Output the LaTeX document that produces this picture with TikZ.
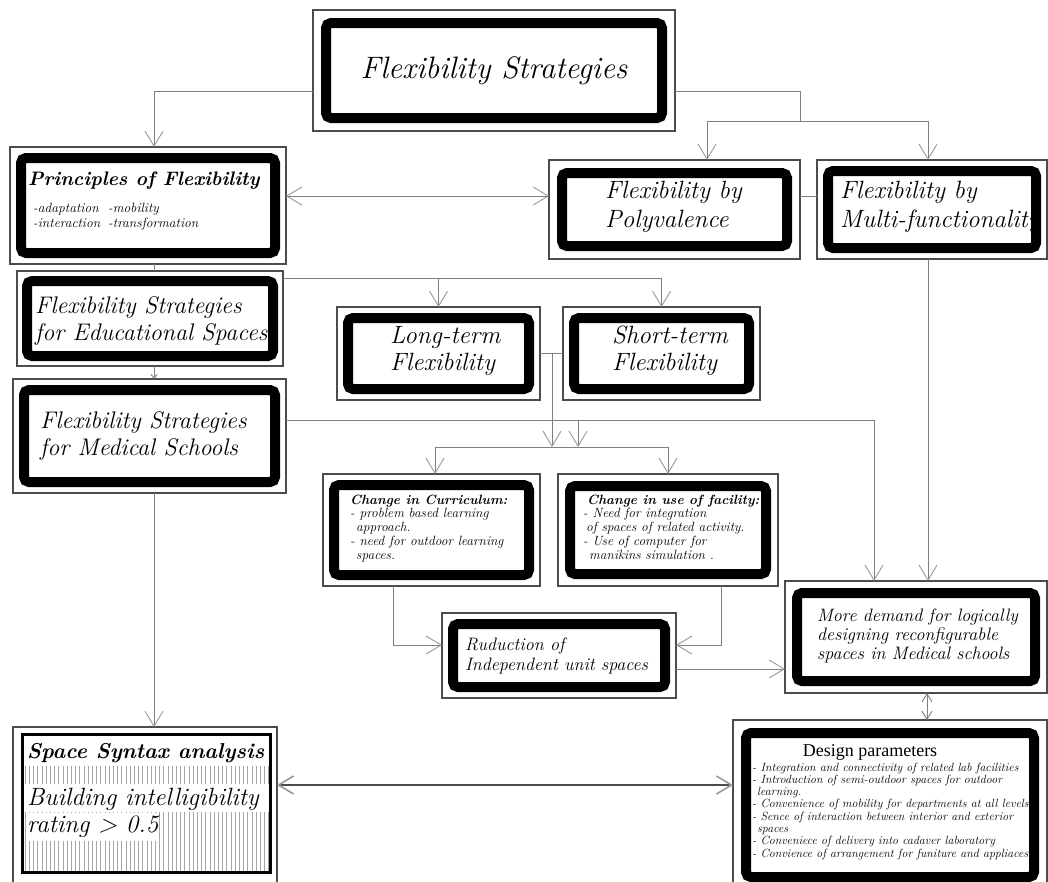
\documentclass[tikz,border=0pt]{standalone}
\usepackage{fontspec}
\newfontfamily\timesfont{Liberation Serif}
\usetikzlibrary{arrows.meta}
% left-aligned block whose reference point is the first baseline
\newcommand\mylines[1]{\begin{tabular}[t]{@{}l@{}}#1\end{tabular}}
\newcommand\fsz[2]{\fontsize{#1}{#2}\selectfont}
% thin outer frame: name, x1, y1, x2, y2
\newcommand\obox[5]{\node[outerbox, minimum width={(#4-#2)*1pt}, minimum height={(#5-#3)*1pt}] (#1) at ({(#2+#4)/2},{(#3+#5)/2}) {};}
% heavy rounded frame set inside an outer frame
\newcommand\tframe[2]{\draw[thickframe] ([shift={(#2+5,#2+5)}]#1.north west) rectangle ([shift={(-#2-5,-#2-5)}]#1.south east);}
\begin{document}
\begin{tikzpicture}[x=1pt,y=-1pt,
  outerbox/.style={draw=black!70, line width=1.1pt, rectangle, inner sep=0pt, outer sep=0pt, fill=white},
  thickframe/.style={draw=black, line width=10pt, rounded corners=5pt},
  lbl/.style={inner sep=0pt, anchor=base west, font=\itshape},
  wire/.style={draw=black!50, line width=0.9pt},
  conn/.style={wire, -{Straight Barb[length=15pt,width=18pt,color=black!40]}},
  conntwo/.style={wire, {Straight Barb[length=15pt,width=18pt,color=black!40]}-{Straight Barb[length=15pt,width=18pt,color=black!40]}},
  connsmall/.style={wire, -{Straight Barb[length=4pt,width=6pt]}},
  conntwosmall/.style={wire, {Straight Barb[length=8pt,width=10pt]}-{Straight Barb[length=8pt,width=10pt]}},
  hatch/.style={draw=black!35, line width=0.5pt}]
\useasboundingbox (0,0) rectangle (1048,881);
\fill[white] (0,0) rectangle (1048,881);
\clip (0,0) rectangle (1048,881);

% ---------- boxes ----------
\obox{title}{313}{10}{675}{131}   \tframe{title}{8}
\obox{princ}{10}{147}{286}{264}   \tframe{princ}{6}
\obox{poly}{549}{160}{800}{259}   \tframe{poly}{8}
\obox{multi}{817}{160}{1047}{259} \tframe{multi}{6}
\obox{edu}{17}{271}{283}{366}     \tframe{edu}{5}
\obox{med}{13}{379}{286}{493}     \tframe{med}{6}
\obox{long}{337}{307}{540}{400}   \tframe{long}{6}
\obox{short}{563}{307}{760}{400}  \tframe{short}{6}
\obox{curr}{323}{474}{540}{586}   \tframe{curr}{6}
\obox{fac}{558}{474}{778}{586}    \tframe{fac}{7}
\obox{red}{442}{613}{676}{698}    \tframe{red}{6}
\obox{more}{785}{581}{1047}{693}  \tframe{more}{7}
\obox{design}{733}{720}{1047}{890} \tframe{design}{8}
\obox{space}{13}{727}{277}{890}

% hatched panel of the space syntax box
\foreach \x in {25,29.2,...,270} \draw[hatch] (\x,736) -- (\x,872);
\fill[white] (23,735) rectangle (270,766);
\fill[white] (23,784) rectangle (270,812);
\draw[black, line width=3pt] (22.5,734.5) rectangle (270.5,872.5);

% ---------- texts ----------
\node[inner sep=0pt, anchor=base, font=\itshape\fsz{31}{34}] (title-t) at (494,78) {Flexibility Strategies};
\node[lbl, font=\bfseries\itshape\fsz{19.5}{22}] (princ-t) at (28,185) {Principles of Flexibility};
\node[lbl, font=\itshape\fsz{13.5}{15}] (princ-s) at (33,212)
  {\mylines{\makebox[75pt][l]{-adaptation}-mobility\\ \makebox[75pt][l]{-interaction}-transformation}};
\node[lbl, font=\itshape\fsz{25}{29}] (poly-t) at (605,198) {\mylines{Flexibility by\\Polyvalence}};
\node[lbl, font=\itshape\fsz{25}{29}] (multi-t) at (840,198) {\mylines{Flexibility by\\Multi-functionality}};
\node[lbl, font=\itshape\fsz{24}{27}] (edu-t) at (35,313) {\mylines{Flexibility Strategies\\for Educational Spaces}};
\node[lbl, font=\itshape\fsz{24}{27}] (med-t) at (40,428) {\mylines{Flexibility Strategies\\for Medical Schools}};
\node[lbl, font=\itshape\fsz{25}{27}] (long-t) at (390,343) {\mylines{Long-term\\Flexibility}};
\node[lbl, font=\itshape\fsz{25}{27}] (short-t) at (612,343) {\mylines{Short-term\\Flexibility}};
\node[lbl, font=\itshape\fsz{13.4}{13.8}] (curr-t) at (350,504)
  {\mylines{\textbf{Change in Curriculum:}\\- problem based learning\\\hspace{6pt}approach.\\- need for outdoor learning\\\hspace{6pt}spaces.}};
\node[lbl, font=\itshape\fsz{13.4}{13.8}] (fac-t) at (583,504)
  {\mylines{\hspace{4pt}\textbf{Change in use of facility:}\\- Need for integration\\\hspace{3pt}of spaces of related activity.\\- Use of computer for\\\hspace{6pt}manikins simulation .}};
\node[lbl, font=\itshape\fsz{18}{20}] (red-t) at (465,650) {\mylines{Ruduction of\\Independent unit spaces}};
\node[lbl, font=\itshape\fsz{18}{19}] (more-t) at (817,621)
  {\mylines{More demand for logically\\designing reconfigurable\\spaces in Medical schools}};
\node[inner sep=0pt, anchor=base, font=\timesfont\fsz{18}{20}] (design-t) at (870,756) {Design parameters};
\node[lbl, font=\itshape\fsz{11.9}{12.3}] (design-s) at (752,771)
  {\mylines{- Integration and connectivity of related lab facilities\\
   - Introduction of semi-outdoor spaces for outdoor\\
   \hspace{5pt}learning.\\
   - Convenience of mobility for departments at all levels\\
   - Sence of interaction between interior and exterior\\
   \hspace{5pt}spaces\\
   - Conveniece of delivery into cadaver laboratory\\
   - Convience of arrangement for funiture and appliaces}};
\node[lbl, font=\bfseries\itshape\fsz{21.5}{24}] (space-t) at (27,758) {Space Syntax analysis};
\node[lbl, font=\itshape\fsz{25}{27}] (space-s) at (27,805) {\mylines{Building intelligibility\\\colorbox{white}{\kern-3pt rating > 0.5\kern-3pt}}};

% ---------- connectors ----------
\coordinate (split1) at (800,121);
\draw[wire] ([yshift=-21pt]title.east) -| (split1);
\draw[conn] ([yshift=-21pt]title.west) -| ([xshift=6pt]princ.north);
\draw[conn] (split1) -| ([xshift=32.5pt]poly.north);
\draw[conn] (split1) -| ([xshift=-4pt]multi.north);
\draw[conntwo] ([yshift=9.5pt]princ.east) -- ([yshift=9.5pt]princ.east -| poly.west);
\draw[wire] ([yshift=13.5pt]poly.east) -- ([yshift=13.5pt]poly.east -| multi.west);
\draw[wire] ([xshift=6pt]princ.south) -- ([xshift=6pt]princ.south |- edu.north);
\draw[connsmall] ([xshift=4pt]edu.south) -- ([xshift=4pt]edu.south |- med.north);

\coordinate (j1) at (438.5,278);
\draw[conn] ([yshift=40.5pt]edu.east) -| (short.north);
\draw[conn] (j1) -- (long.north);
\draw[wire] (long.east) -- (short.west);
\coordinate (j2) at (552,353.5);
\coordinate (j3) at (552,447);
\draw[conn] (j2) -- (j3);
\draw[conn] (j3) -| ([xshift=3.5pt]curr.north);
\draw[conn] (j3) -| (fac.north);

\draw[conn] ([yshift=16pt]med.east) -| ([xshift=-42pt]more.north);
\coordinate (j4) at (578,420);
\coordinate (j5) at (578,447);
\draw[conn] (j4) -- (j5);
\draw[conn] ([xshift=-4pt]multi.south) -- ([xshift=-4pt]multi.south |- more.north);

\draw[conn] ([xshift=-38.5pt]curr.south) |- ([yshift=10.5pt]red.west);
\draw[conn] ([xshift=53pt]fac.south) |- ([yshift=10.5pt]red.east);
\draw[conn] ([yshift=-13.5pt]red.east) -- ([yshift=-13.5pt]red.east -| more.west);
\draw[conntwosmall] ([xshift=11pt]more.south) -- ([xshift=11pt]more.south |- design.north);
\draw[conn] ([xshift=4.5pt]med.south) -- ([xshift=4.5pt]med.south |- space.north);
\draw[draw=black!70, line width=1.6pt, {Straight Barb[length=15pt,width=18pt,color=black!40]}-{Straight Barb[length=15pt,width=18pt,color=black!40]}]
  ([yshift=23.5pt]space.east) -- ([yshift=23.5pt]space.east -| design.west);
\end{tikzpicture}
\end{document}
